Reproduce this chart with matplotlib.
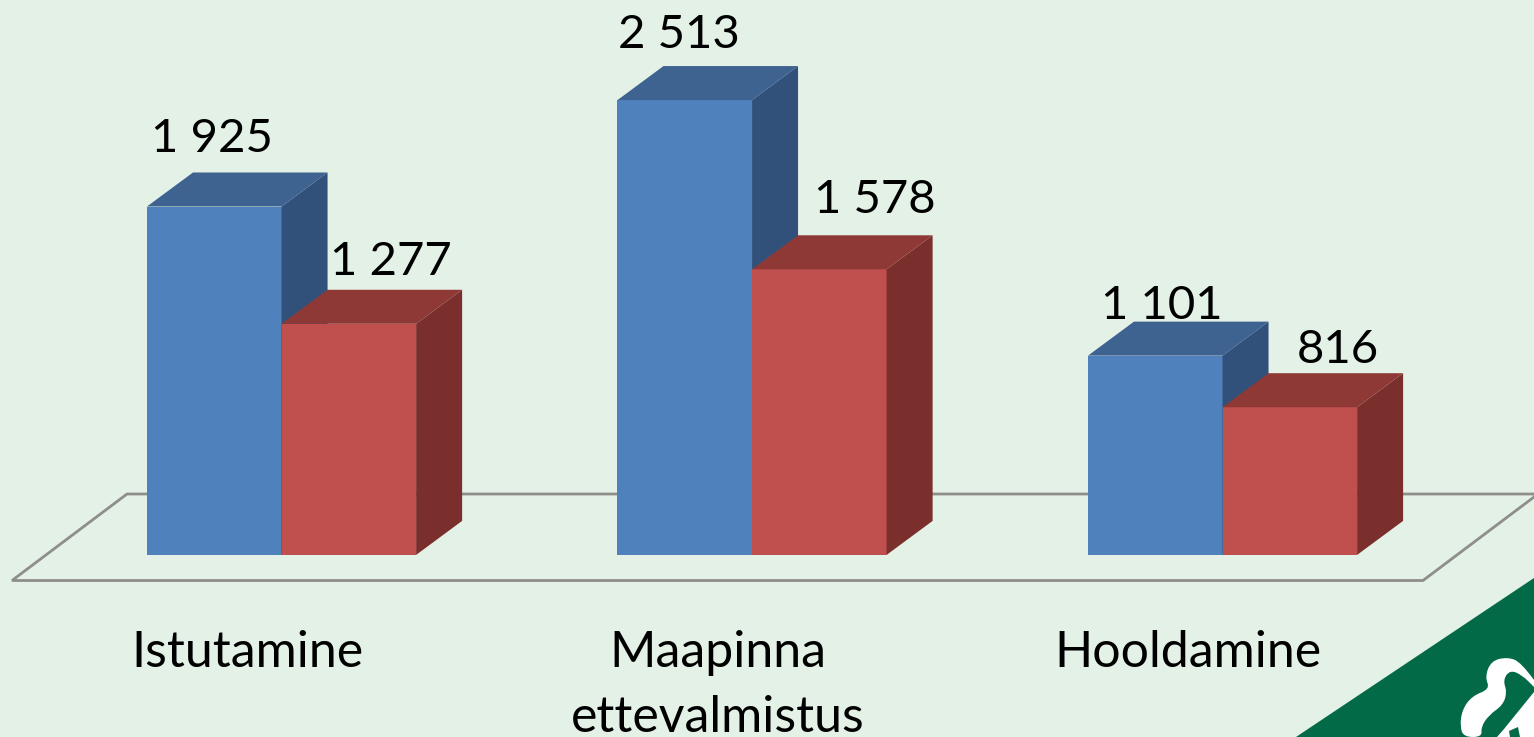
import numpy as np
import matplotlib
matplotlib.use('Agg')
import matplotlib.pyplot as plt
from matplotlib.patches import PathPatch
from matplotlib.path import Path

categories = ['Istutamine', 'Maapinna\nettevalmistus', 'Hooldamine']
blue_values = [1925, 2513, 1101]
red_values = [1277, 1578, 816]
blue_labels = ['1 925', '2 513', '1 101']
red_labels = ['1 277', '1 578', '816']

plt.rcParams['font.family'] = ['Lato', 'DejaVu Sans']

BG = '#E4F1E7'
W, H = 1534, 737
bar_w = 0.286
depth_x = 0.0978
depth_y = 188


def bar_3d(ax, x, h, front, top, side):
    x0, x1 = x, x + bar_w
    ax.bar(x0, h, bar_w, align='edge', color=front, zorder=3)
    ax.fill([x1, x1 + depth_x, x1 + depth_x, x1],
            [0, depth_y, h + depth_y, h], color=side, lw=0, zorder=3)
    ax.fill([x0, x0 + depth_x, x1 + depth_x, x1],
            [h, h + depth_y, h + depth_y, h], color=top, lw=0, zorder=3)


def smooth_patch(pts, color):
    # quadratic curves through the midpoints, ends stay on the image edge
    verts = [pts[0]]
    codes = [Path.MOVETO]
    for a, b in zip(pts[1:-1], pts[2:]):
        verts += [a, ((a[0] + b[0]) / 2, (a[1] + b[1]) / 2)]
        codes += [Path.CURVE3, Path.CURVE3]
    verts += [pts[-1], pts[0]]
    codes += [Path.LINETO, Path.CLOSEPOLY]
    return PathPatch(Path(verts, codes), fc=color, ec='none')


fig = plt.figure(figsize=(W / 100, H / 100), dpi=100, facecolor=BG)

# floor and logo go on a pixel axes behind the chart
deco = fig.add_axes([0, 0, 1, 1])
deco.set_xlim(0, W)
deco.set_ylim(H, 0)
deco.axis('off')
deco.plot([1538, 127, 12, 1423, 1538], [494, 494, 580.5, 580.5, 494],
          color='#8E8E8A', lw=2, solid_joinstyle='miter')
deco.fill([1296, 1534, 1534], [737, 578, 737], color='#036A47', lw=0)
swirl_pts = [(1534, 680), (1521, 662), (1507, 657), (1491, 661), (1485, 677),
             (1490, 689), (1472, 696), (1462, 710), (1460, 727), (1464, 737),
             (1482, 737), (1481, 727), (1489, 715), (1503, 705), (1507, 692),
             (1503, 680), (1510, 670), (1522, 675), (1534, 687)]
deco.add_patch(smooth_patch(swirl_pts, 'white'))
deco.fill([1534, 1504, 1497, 1534], [692, 729, 737, 737], color='white', lw=0)
deco.fill([1510, 1520, 1518, 1509], [737, 737, 727, 731], color='#036A47', lw=0)

ax = fig.add_axes([0, 0, 1, 1])
ax.patch.set_alpha(0)
ax.axis('off')
ax.set_xlim(-0.3124, 2.948)
ax.set_ylim(-1006, 3066)

pos = np.arange(len(categories))
for i in range(len(categories)):
    bar_3d(ax, pos[i], blue_values[i], '#4F81BD', '#3E6391', '#31517A')
    bar_3d(ax, pos[i] + bar_w, red_values[i], '#C0504D', '#8F3937', '#7B2F2D')

# label offsets from the bar's left edge / top, 3d columns make these uneven
blue_dx = [0.137, 0.130, 0.156]
blue_dy = [372, 360, 272]
red_dx = [0.233, 0.261, 0.245]
red_dy = [341, 385, 317]
for i in range(len(categories)):
    ax.text(pos[i] + blue_dx[i], blue_values[i] + blue_dy[i], blue_labels[i],
            fontsize=34, ha='center', va='center', color='black', zorder=5)
    ax.text(pos[i] + bar_w + red_dx[i], red_values[i] + red_dy[i], red_labels[i],
            fontsize=34, ha='center', va='center', color='black', zorder=5)

cat_x = [247, 718, 1188]
for name, cx in zip(categories, cat_x):
    deco.text(cx, 630, name, fontsize=36, ha='center', va='top',
              linespacing=1.5, color='black')

fig.savefig('out.png', dpi=100, facecolor=BG)
